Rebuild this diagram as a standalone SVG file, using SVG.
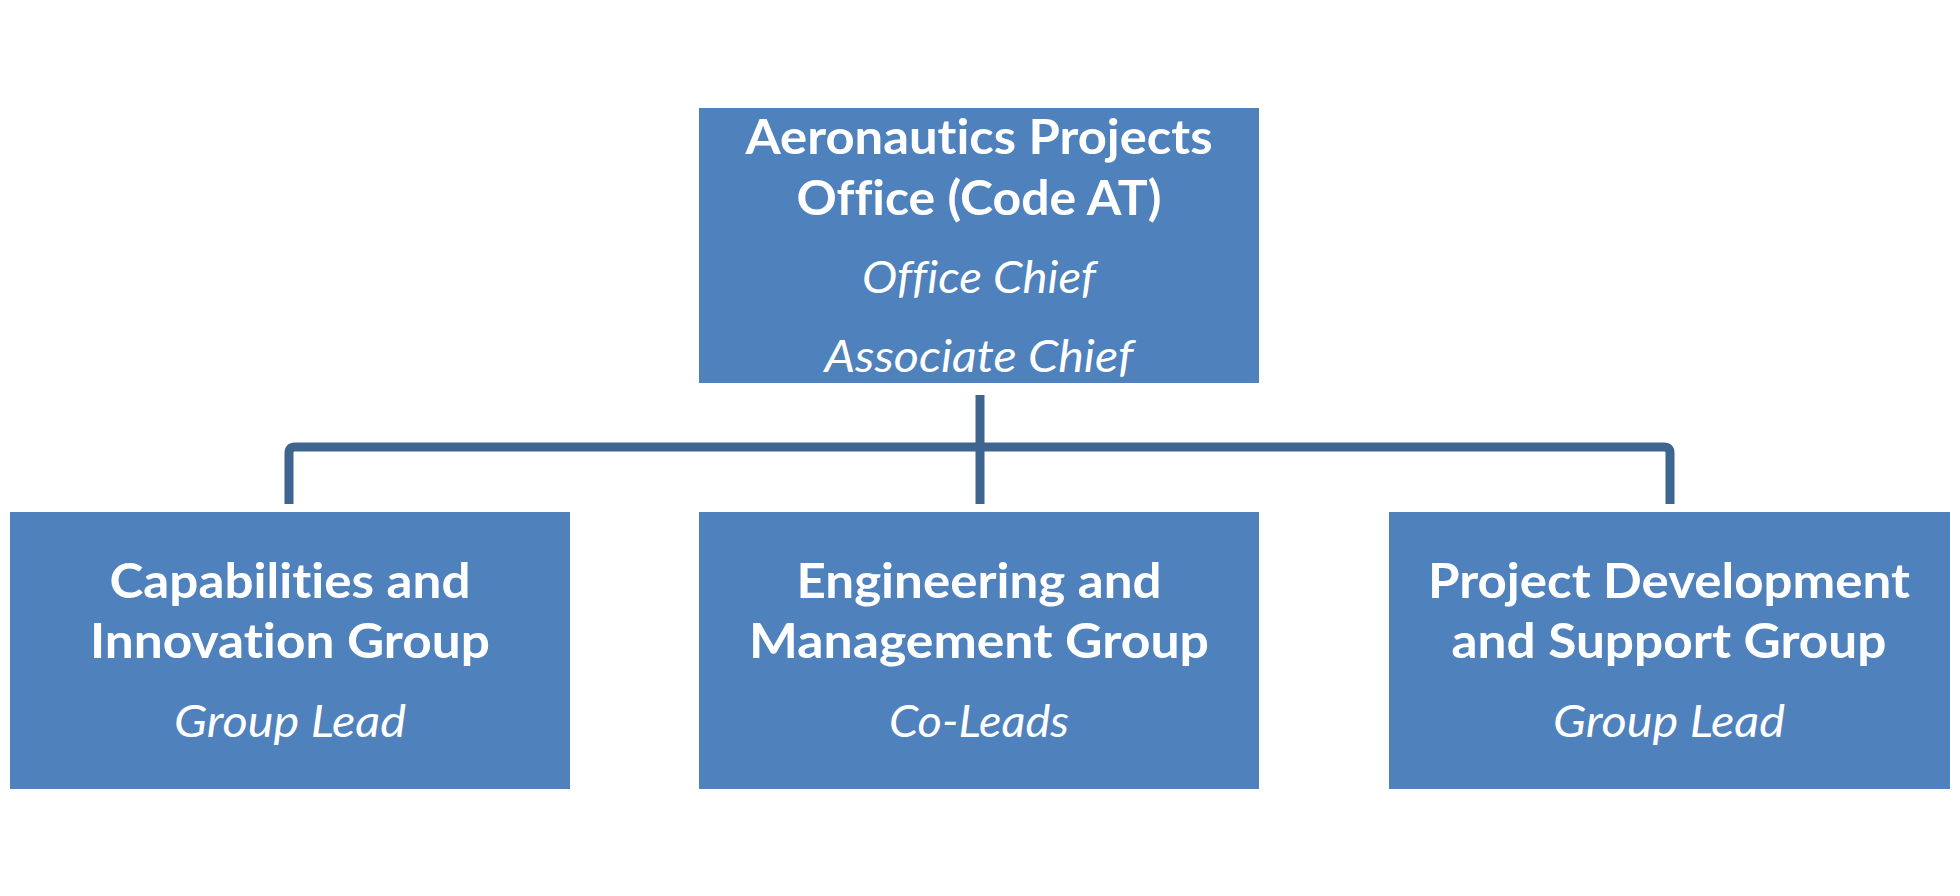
<svg xmlns="http://www.w3.org/2000/svg" width="1960" height="896" viewBox="0 0 1960 896">
<style>
.box{fill:#4f81bd;}
.conn{fill:none;stroke:#3e6590;stroke-width:9;stroke-linecap:butt;stroke-linejoin:round;}
.t{fill:#ffffff;font-family:Lato,"Open Sans","Liberation Sans",sans-serif;text-anchor:middle;font-variant-ligatures:none;font-feature-settings:"liga" 0,"clig" 0;}
.b{font-weight:bold;font-size:48px;}
.i{font-style:italic;font-size:44px;}
</style>
<rect x="0" y="0" width="1960" height="896" fill="#ffffff"/>
<g id="connectors">
<path class="conn" d="M289,504 V453 Q289,447 295,447 H1664 Q1670,447 1670,453 V504"/>
<path class="conn" d="M980,395 V504"/>
</g>
<g id="office">
<rect class="box" x="699" y="108" width="560" height="275"/>
<text class="t b" x="979" y="154" textLength="467" lengthAdjust="spacingAndGlyphs">Aeronautics Projects</text>
<text class="t b" x="979" y="215" textLength="365" lengthAdjust="spacingAndGlyphs">Office (Code AT)</text>
<text class="t i" x="979" y="293" textLength="234" lengthAdjust="spacingAndGlyphs">Office Chief</text>
<text class="t i" x="979" y="372" textLength="309" lengthAdjust="spacingAndGlyphs">Associate Chief</text>
</g>
<g id="capabilities">
<rect class="box" x="10" y="512" width="560" height="277"/>
<text class="t b" x="290" y="598" textLength="361" lengthAdjust="spacingAndGlyphs">Capabilities and</text>
<text class="t b" x="290" y="658" textLength="400" lengthAdjust="spacingAndGlyphs">Innovation Group</text>
<text class="t i" x="290" y="737" textLength="232" lengthAdjust="spacingAndGlyphs">Group Lead</text>
</g>
<g id="engineering">
<rect class="box" x="699" y="512" width="560" height="277"/>
<text class="t b" x="979" y="598" textLength="365" lengthAdjust="spacingAndGlyphs">Engineering and</text>
<text class="t b" x="979" y="658" textLength="460" lengthAdjust="spacingAndGlyphs">Management Group</text>
<text class="t i" x="979" y="737" textLength="180" lengthAdjust="spacingAndGlyphs">Co-Leads</text>
</g>
<g id="project">
<rect class="box" x="1389" y="512" width="561" height="277"/>
<text class="t b" x="1669" y="598" textLength="482" lengthAdjust="spacingAndGlyphs">Project Development</text>
<text class="t b" x="1669" y="658" textLength="435" lengthAdjust="spacingAndGlyphs">and Support Group</text>
<text class="t i" x="1669" y="737" textLength="232" lengthAdjust="spacingAndGlyphs">Group Lead</text>
</g>
</svg>
